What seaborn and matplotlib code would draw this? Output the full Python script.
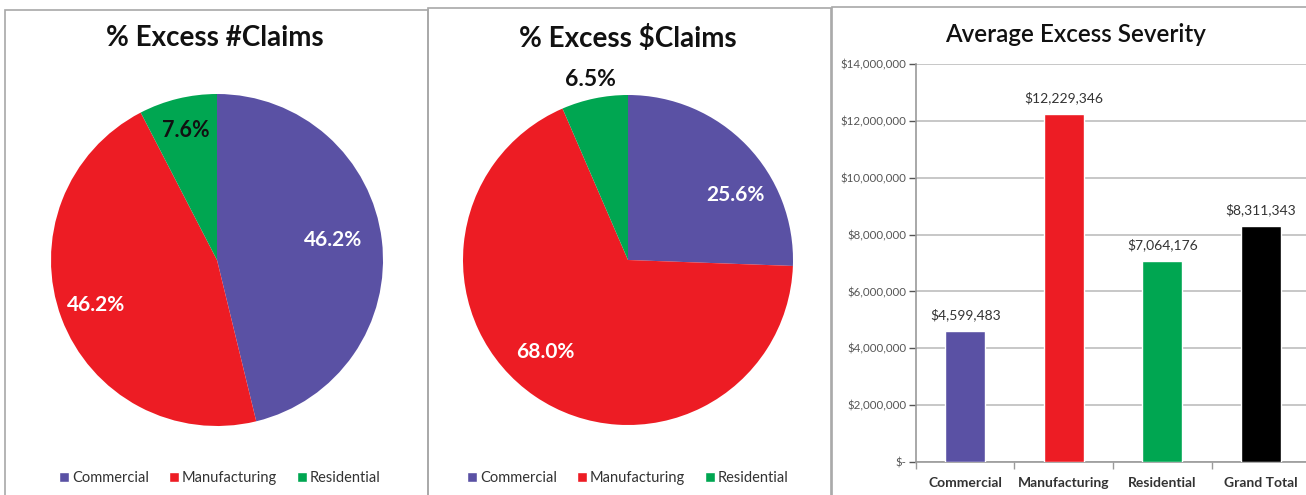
import numpy as np
import pandas as pd
import seaborn as sns
import matplotlib.pyplot as plt
from matplotlib.patches import Rectangle, Patch
from matplotlib.ticker import FuncFormatter, MultipleLocator

# ── data ──────────────────────────────────────────────
segments = ["Commercial", "Manufacturing", "Residential"]
pct_num_claims = [46.2, 46.2, 7.6]
pct_dollar_claims = [25.6, 68.0, 6.5]

bar_categories = ["Commercial", "Manufacturing", "Residential", "Grand Total"]
avg_severity = [4599483, 12229346, 7064176, 8311343]

colors = {"Commercial": "#5A51A4", "Manufacturing": "#ED1C24",
          "Residential": "#00A651", "Grand Total": "#000000"}

sns.set_theme(style="white")
plt.rcParams["font.family"] = ["Lato", "DejaVu Sans"]

W, H = 1306, 495
fig = plt.figure(figsize=(W / 100, H / 100), dpi=100)


def px_axes(x0, y0, x1, y1):
    # pixel box (top-left origin) -> figure fraction axes
    return fig.add_axes([x0 / W, 1 - y1 / H, (x1 - x0) / W, (y1 - y0) / H])


def panel(x0, y0, x1, y1):
    fig.add_artist(Rectangle((x0 / W, 1 - y1 / H), (x1 - x0) / W, (y1 - y0) / H,
                             transform=fig.transFigure, fill=False,
                             edgecolor="#A8A8A8", linewidth=1.2))


panel(5, 10, 428, 500)
panel(428, 8, 831, 500)
panel(832, 7, 1310, 500)


def draw_pie(ax, values, title, label_r, label_shift, label_colors, label_size,
             title_x, legend_x, legend_y):
    wedges, _ = ax.pie(values, colors=[colors[s] for s in segments],
                       startangle=90, counterclock=False,
                       wedgeprops=dict(linewidth=0))
    ax.set_xlim(-1, 1)
    ax.set_ylim(-1, 1)
    for w, v, r, sh, c, fs in zip(wedges, values, label_r, label_shift, label_colors, label_size):
        ang = np.deg2rad((w.theta1 + w.theta2) / 2 + sh)
        ax.text(r * np.cos(ang), r * np.sin(ang), f"{v:.1f}%", ha="center",
                va="center", fontsize=fs, fontweight="bold", color=c)
    fig.text(title_x / W, 1 - 38 / H, title, ha="center", va="center",
             fontsize=20, fontweight="bold", color="#111111")
    handles = [Patch(facecolor=colors[s], label=s) for s in segments]
    fig.legend(handles=handles, loc="center", bbox_to_anchor=(legend_x / W, 1 - legend_y / H),
               ncol=3, frameon=False, fontsize=10.5, handlelength=0.7, handleheight=0.7,
               handletextpad=0.2, columnspacing=1.35, labelcolor="#333333")


ax1 = px_axes(51, 94, 383, 426)
draw_pie(ax1, pct_num_claims, "% Excess #Claims", [0.71, 0.78, 0.8], [3, 0, 0],
         ["white", "white", "#111111"], [15, 15, 15.5], 215, 220, 478)

ax2 = px_axes(463, 95, 793, 425)
draw_pie(ax2, pct_dollar_claims, "% Excess $Claims", [0.76, 0.75, 1.12], [-13, -7.5, 0],
         ["white", "white", "#111111"], [15, 15, 16.5], 628, 628, 478)

# ── bar chart ─────────────────────────────────────────
df = pd.DataFrame({"Category": bar_categories, "Severity": avg_severity})
ax3 = px_axes(916, 64, 1310, 462)
sns.barplot(data=df, x="Category", y="Severity", hue="Category",
            palette=[colors[c] for c in bar_categories], width=0.41,
            legend=False, saturation=1, ax=ax3, zorder=3)
ax3.set_ylim(0, 14000000)
ax3.set_xlim(-0.5, 3.5)
ax3.yaxis.set_major_locator(MultipleLocator(2000000))
ax3.yaxis.set_major_formatter(FuncFormatter(lambda v, p: "$-" if v == 0 else f"${v:,.0f}"))
ax3.grid(axis="y", color="#BDBDBD", linewidth=1.2, zorder=0)
ax3.set_xlabel("")
ax3.set_ylabel("")
for s in ["top", "right"]:
    ax3.spines[s].set_visible(False)
for s in ["left", "bottom"]:
    ax3.spines[s].set_color("#9A9A9A")
    ax3.spines[s].set_linewidth(1.2)
ax3.tick_params(axis="y", labelsize=8.3, colors="#555555", length=5, width=1,
                direction="out", left=True, pad=2)
ax3.tick_params(axis="x", which="major", length=0, labelsize=10, pad=11,
                labelcolor="#333333")
ax3.set_xticks(np.arange(-0.5, 4, 1), minor=True)
ax3.tick_params(axis="x", which="minor", length=5, width=1, color="#9A9A9A", bottom=True)
for lbl in ax3.get_xticklabels():
    lbl.set_fontweight("bold")

for i, v in enumerate(avg_severity):
    ax3.annotate(f"${v:,.0f}", (i, v), xytext=(0, 7), textcoords="offset points",
                 ha="center", va="bottom", fontsize=10, color="#333333")

fig.text(1075 / W, 1 - 35 / H, "Average Excess Severity", ha="center", va="center",
         fontsize=17.5, fontweight="semibold", color="#111111")

fig.savefig("out.png", dpi=100)
